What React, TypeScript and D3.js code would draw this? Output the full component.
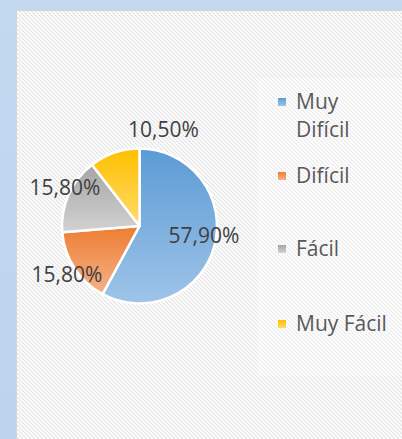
import React from "react";
import * as d3 from "d3";

const categories = ["Muy Difícil", "Difícil", "Fácil", "Muy Fácil"];
const values = [57.9, 15.8, 15.8, 10.5];
const valueLabels = ["57,90%", "15,80%", "15,80%", "10,50%"];
const legendLines = [["Muy", "Difícil"], ["Difícil"], ["Fácil"], ["Muy Fácil"]];
const colorsTop = ["#5b9bd5", "#ed7d31", "#a5a5a5", "#ffc000"];
const colorsBottom = ["#9fc4e8", "#f5b28a", "#d2d2d2", "#ffda6a"];

const W = 402;
const H = 439;
const FONT = "'Open Sans', 'Liberation Sans', sans-serif";

export default function App() {
  const cx = 139.5;
  const cy = 226;
  const r = 77.5;
  const pie = d3.pie<number>().sort(null).value((d) => d)(values);
  const arc = d3.arc<d3.PieArcDatum<number>>().innerRadius(0).outerRadius(r);

  const labelPos = [
    { x: 204, y: 243 },
    { x: 67, y: 282 },
    { x: 65, y: 195 },
    { x: 163.5, y: 137 },
  ];
  const legendY = [109, 183, 256, 331];

  return (
    <svg
      width={W}
      height={H}
      style={{ position: "absolute", left: 0, top: 0, display: "block" }}
    >
      <defs>
        <pattern id="hatch" patternUnits="userSpaceOnUse" width="4" height="4">
          <rect width="4" height="4" fill="#ffffff" />
          <path d="M-1,-1 L5,5 M-1,3 L1,5 M3,-1 L5,1" stroke="#e2e2e2" strokeWidth="1.2" />
        </pattern>
        <linearGradient id="bg" x1="0" y1="0" x2="0" y2="1">
          <stop offset="0" stopColor="#c3d9f0" />
          <stop offset="1" stopColor="#bcd4ee" />
        </linearGradient>
        {categories.map((c, i) => (
          <linearGradient key={c} id={`g${i}`} x1="0" y1="0" x2="0" y2="1">
            <stop offset="0" stopColor={colorsTop[i]} />
            <stop offset="1" stopColor={colorsBottom[i]} />
          </linearGradient>
        ))}
      </defs>
      <rect x={0} y={0} width={W} height={H} fill="url(#bg)" />
      <rect x={16.5} y={10.5} width={W} height={H} fill="url(#hatch)" stroke="#d4d4d4" strokeWidth={1} />
      <rect x={258} y={78} width={W - 258} height={298} fill="#ffffff" opacity={0.3} />
      <g transform={`translate(${cx},${cy})`}>
        {pie.map((p, i) => (
          <path key={i} d={arc(p) || ""} fill={`url(#g${i})`} stroke="#ffffff" strokeWidth={2.5} strokeLinejoin="round" />
        ))}
      </g>
      {valueLabels.map((t, i) => (
        <text
          key={i}
          x={labelPos[i].x}
          y={labelPos[i].y}
          textAnchor="middle"
          fontFamily={FONT}
          fontSize={21}
          fill="#404040"
        >
          {t}
        </text>
      ))}
      {categories.map((c, i) => (
        <g key={c}>
          <rect x={278} y={legendY[i] - 11} width={8} height={8} fill={`url(#g${i})`} />
          {legendLines[i].map((line, j) => (
            <text
              key={j}
              x={296}
              y={legendY[i] + j * 28}
              fontFamily={FONT}
              fontSize={21}
              fill="#595959"
            >
              {line}
            </text>
          ))}
        </g>
      ))}
    </svg>
  );
}
